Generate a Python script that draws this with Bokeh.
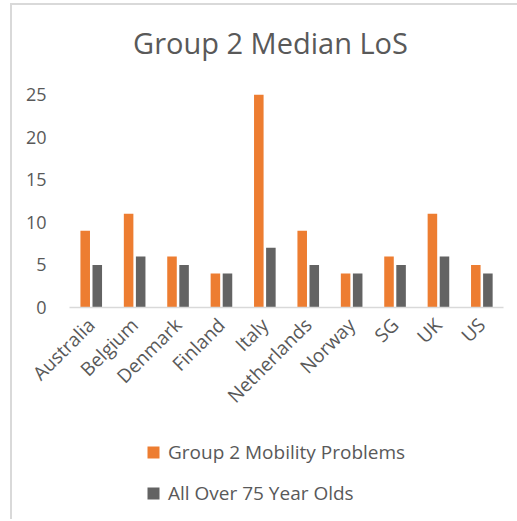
import math
from bokeh.plotting import figure
from bokeh.layouts import column
from bokeh.models import ColumnDataSource, FactorRange, Range1d, Legend, LegendItem, Label
from bokeh.transform import dodge
from bokeh.embed import file_html
from bokeh.resources import INLINE

countries = ["Australia", "Belgium", "Denmark", "Finland", "Italy",
             "Netherlands", "Norway", "SG", "UK", "US"]
mobility = [9, 11, 6, 4, 25, 9, 4, 6, 11, 5]
over75 = [5, 6, 5, 4, 7, 5, 4, 5, 6, 4]
y_ticks = [0, 5, 10, 15, 20, 25]
series_names = ["Group 2 Mobility Problems", "All Over 75 Year Olds"]
series_colors = ["#ED7D31", "#636363"]
title_text = "Group 2 Median LoS"

FONT = "Open Sans"
TXT = "#595959"

src = ColumnDataSource(dict(country=countries, mobility=mobility, over75=over75))

# title panel
tf = figure(width=505, height=75, x_range=Range1d(0, 1), y_range=Range1d(0, 1),
            x_axis_type=None, y_axis_type=None, output_backend="svg",
            toolbar_location=None, min_border=0)
tf.outline_line_color = None
tf.xgrid.visible = False
tf.ygrid.visible = False
tf.add_layout(Label(x=201, y=38, x_units="screen", y_units="screen", text=title_text,
                    text_align="center", text_baseline="alphabetic",
                    text_font=FONT, text_font_size="29px", text_color=TXT))

p = figure(width=505, height=354, x_range=FactorRange(*countries, range_padding=0),
           y_range=Range1d(0, 25), output_backend="svg", toolbar_location=None,
           min_border_left=57, min_border_right=14, min_border_top=14,
           min_border_bottom=127)

p.vbar(x=dodge("country", -0.138, range=p.x_range), top="mobility", width=0.22,
       source=src, fill_color=series_colors[0], line_color=None)
p.vbar(x=dodge("country", 0.14, range=p.x_range), top="over75", width=0.22,
       source=src, fill_color=series_colors[1], line_color=None)

p.xgrid.visible = False
p.ygrid.visible = False
p.outline_line_color = None

p.yaxis.ticker = y_ticks
p.yaxis.axis_line_color = None
p.yaxis.major_tick_line_color = None
p.yaxis.minor_tick_line_color = None
p.yaxis.major_label_text_font = FONT
p.yaxis.major_label_text_font_size = "18px"
p.yaxis.major_label_text_color = TXT
p.yaxis.major_label_standoff = 17

p.xaxis.axis_line_color = "#d9d9d9"
p.xaxis.axis_line_width = 1.5
p.xaxis.major_tick_line_color = None
p.xaxis.minor_tick_line_color = None
p.xaxis.major_label_orientation = math.pi / 4
p.xaxis.major_label_text_font = FONT
p.xaxis.major_label_text_font_size = "19px"
p.xaxis.major_label_text_color = TXT
p.xaxis.major_label_standoff = 8

# legend panel
lg = figure(width=505, height=85, x_range=Range1d(0, 1), y_range=Range1d(0, 1),
            x_axis_type=None, y_axis_type=None, output_backend="svg",
            toolbar_location=None, min_border=0)
lg.outline_line_color = None
lg.xgrid.visible = False
lg.ygrid.visible = False
items = []
for name, col in zip(series_names, series_colors):
    empty = ColumnDataSource(dict(x=[float("nan")], y=[float("nan")]))
    r = lg.scatter(x="x", y="y", marker="square", size=12, source=empty,
                   fill_color=col, line_color=None)
    items.append(LegendItem(label=name, renderers=[r]))

legend = Legend(items=items, location=(69, 11), orientation="vertical",
                border_line_color=None, background_fill_alpha=0,
                padding=0, margin=0, spacing=11,
                glyph_width=30, glyph_height=30, label_height=30,
                label_text_font=FONT, label_text_font_size="19px",
                label_text_color=TXT, label_standoff=-4)
lg.add_layout(legend)

layout = column(tf, p, lg, spacing=0)
layout.styles = {"margin-left": "10px", "margin-top": "3px",
                 "border-left": "2px solid #d9d9d9", "border-top": "2px solid #d9d9d9"}

open("out.html", "w").write(file_html(layout, INLINE))
